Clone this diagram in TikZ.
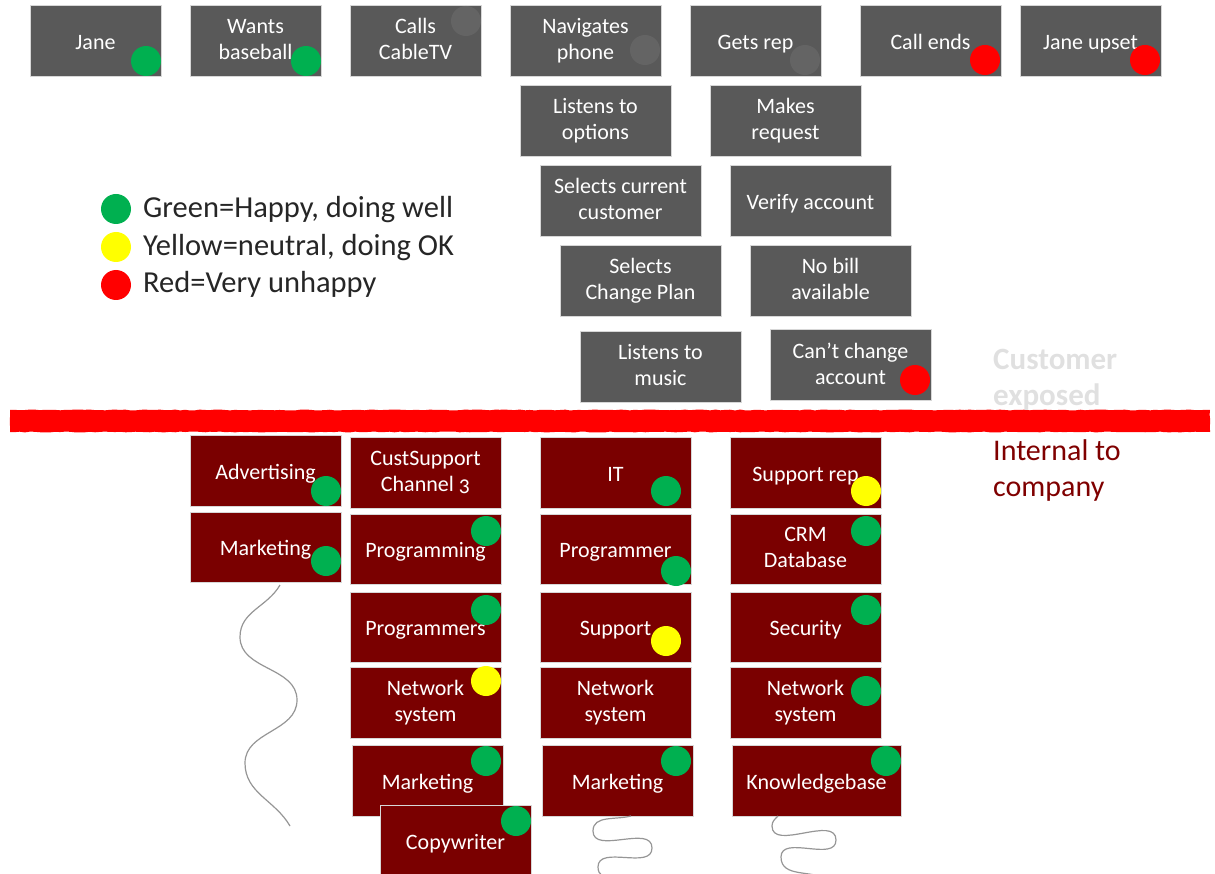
\documentclass[tikz,border=0pt]{standalone}
\usepackage{fontspec}
\setmainfont{Carlito}
\usetikzlibrary{decorations.pathmorphing}

\definecolor{boxgray}{RGB}{89,89,89}
\definecolor{boxred}{RGB}{122,0,0}
\definecolor{ghost}{RGB}{100,100,100}
\definecolor{okgreen}{RGB}{0,176,80}
\definecolor{okyellow}{RGB}{255,255,0}
\definecolor{badred}{RGB}{255,0,0}
\definecolor{edge}{RGB}{215,215,215}
\definecolor{inktext}{RGB}{38,38,38}
\definecolor{pale}{RGB}{224,224,224}
\definecolor{wine}{RGB}{127,0,0}
\definecolor{wave}{RGB}{150,150,150}

% invisible props giving every card line the same height and depth
\newcommand{\cardprop}{\rule[-2.5pt]{0pt}{23.5pt}}

\begin{document}
\begin{tikzpicture}[x=1pt,y=-1pt,
  card/.style={draw=edge, line width=0.7pt, text=white, align=center,
    inner sep=0pt, minimum height=71pt,
    font=\fontsize{22}{26}\selectfont,
    execute at begin node=\cardprop, execute at end node=\cardprop},
  stepcard/.style={card, fill=boxgray},
  deptcard/.style={card, fill=boxred},
  w/.style={minimum width=#1pt},
  ring/.style={circle, inner sep=0pt, minimum size=30pt, draw=none},
  happy/.style={ring, fill=okgreen},
  neutral/.style={ring, fill=okyellow},
  unhappy/.style={ring, fill=badred},
  faint/.style={ring, fill=ghost},
  legendtext/.style={anchor=base west, inner sep=0pt, text=inktext,
    font=\fontsize{30.5}{36}\selectfont},
  zonetext/.style={anchor=north west, inner sep=0pt, align=left},
  squiggle/.style={draw=wave, line width=1.2pt}]

\useasboundingbox (0,0) rectangle (1215,874);

% ---------- customer journey (top row) ----------
\node[stepcard, w=131] (jane)   at (95.5,40.5)  {Jane};
\node[stepcard, w=131] (wants)  at (255.5,40.5) {Wants\\baseball};
\node[stepcard, w=131] (calls)  at (415.5,40.5) {Calls\\CableTV};
\node[stepcard, w=151] (nav)    at (585.5,40.5) {Navigates\\phone};
\node[stepcard, w=131] (rep)    at (755.5,40.5) {Gets rep};
\node[stepcard, w=141] (ends)   at (930.5,40.5) {Call ends};
\node[stepcard, w=141] (upset)  at (1090.5,40.5) {Jane upset};

\node[happy]   (janeD)  at (146,61) {};
\node[happy]   (wantsD) at (306,61) {};
\node[faint]   (callsD) at (466,21) {};
\node[faint]   (navD)   at (645,50) {};
\node[faint]   (repD)   at (805,60) {};
\node[unhappy] (endsD)  at (985,60) {};
\node[unhappy] (upsetD) at (1145,60) {};

% ---------- phone menu / rep steps ----------
\node[stepcard, w=151] (options) at (595.5,120.5) {Listens to\\options};
\node[stepcard, w=151] (request) at (785.5,120.5) {Makes\\request};
\node[stepcard, w=161] (current) at (620.5,200.5) {Selects current\\customer};
\node[stepcard, w=161] (verify)  at (810.5,200.5) {Verify account};
\node[stepcard, w=161] (plan)    at (640.5,280.5) {Selects\\Change Plan};
\node[stepcard, w=161] (nobill)  at (830.5,280.5) {No bill\\available};
\node[stepcard, w=161] (music)   at (660.5,366.5) {Listens to\\music};
\node[stepcard, w=161] (cant)    at (850.5,364.5) {Can’t change\\account};
\node[unhappy] (cantD) at (915,380) {};

% ---------- legend ----------
\node[happy]   (lgG) at (116,209) {};
\node[neutral] (lgY) at (116,247) {};
\node[unhappy] (lgR) at (116,285) {};
\node[legendtext] (lgGt) at (143,218) {Green=Happy, doing well};
\node[legendtext] (lgYt) at (143,256) {Yellow=neutral, doing OK};
\node[legendtext] (lgRt) at (143,293) {Red=Very unhappy};

% ---------- boundary line ----------
\pgfmathsetseed{7}
\fill[badred, decorate,
  decoration={random steps, segment length=5pt, amplitude=0.45pt}]
  (10,410) -- (1210,410) -- (1210,432) -- (10,432) -- cycle;

\node[zonetext, text=pale, font=\bfseries\fontsize{31}{35.5}\selectfont]
  (exposed) at (993,349) {Customer\\exposed};
\node[zonetext, text=wine, font=\fontsize{30}{36}\selectfont]
  (internal) at (993,439) {Internal to\\company};

% ---------- internal departments ----------
% column 1
\node[deptcard, w=151] (adv)  at (265.5,470.5) {Advertising};
\node[deptcard, w=151, minimum height=70pt] (mkt1) at (265.5,547) {Marketing};
% column 2
\node[deptcard, w=151] (cust)   at (425.5,472.5) {CustSupport\\Channel {\addfontfeature{Numbers=OldStyle}3}};
\node[deptcard, w=151, minimum height=70pt] (prog)   at (425.5,549) {Programming};
\node[deptcard, w=151, minimum height=70pt] (progs)  at (425.5,627) {Programmers};
\node[deptcard, w=151] (net2)   at (425.5,702.5) {Network\\system};
\node[deptcard, w=151] (mkt2)   at (427.5,780.5) {Marketing};
\node[deptcard, w=151] (copy)   at (455.5,840.5) {Copywriter};
% column 3
\node[deptcard, w=151] (it)     at (615.5,472.5) {IT};
\node[deptcard, w=151, minimum height=70pt] (progr)  at (615.5,549) {Programmer};
\node[deptcard, w=151, minimum height=70pt] (supp)   at (615.5,627) {Support};
\node[deptcard, w=151] (net3)   at (615.5,702.5) {Network\\system};
\node[deptcard, w=151] (mkt3)   at (617.5,780.5) {Marketing};
% column 4
\node[deptcard, w=151] (srep)   at (805.5,472.5) {Support rep};
\node[deptcard, w=151, minimum height=70pt] (crm)    at (805.5,549) {CRM\\Database};
\node[deptcard, w=151, minimum height=70pt] (sec)    at (805.5,627) {Security};
\node[deptcard, w=151] (net4)   at (805.5,702.5) {Network\\system};
\node[deptcard, w=169] (kb)     at (816.5,780.5) {Knowledgebase};

% department mood markers
\node[happy]   (advD)   at (326,491) {};
\node[happy]   (mkt1D)  at (326,561) {};
\node[happy]   (progD)  at (486,531) {};
\node[happy]   (progsD) at (486,610) {};
\node[neutral] (net2D)  at (486,681) {};
\node[happy]   (mkt2D)  at (486,761) {};
\node[happy]   (copyD)  at (516,821) {};
\node[happy]   (itD)    at (666,491) {};
\node[happy]   (progrD) at (676,571) {};
\node[neutral] (suppD)  at (666,641) {};
\node[happy]   (mkt3D)  at (676,761) {};
\node[neutral] (srepD)  at (866,491) {};
\node[happy]   (crmD)   at (866,531) {};
\node[happy]   (secD)   at (866,610) {};
\node[happy]   (net4D)  at (866,691) {};
\node[happy]   (kbD)    at (886,761) {};

% ---------- wavy trailing lines ----------
\begin{scope}
\clip (0,0) rectangle (1215,874);
\draw[squiggle] (280,585) to[out=-120,in=90] (240,637)
  to[out=-90,in=90] (297,700) to[out=-90,in=90] (245,763)
  to[out=-90,in=120] (290,826);
\draw[squiggle] (631,816) to[out=-165,in=90] (593,831)
  to[out=-90,in=90] (652,848) to[out=-90,in=90] (598,867)
  to[out=-90,in=150] (640,884);
\draw[squiggle] (778,816) to[out=-135,in=90] (772,826)
  to[out=-90,in=90] (836,840) to[out=-90,in=90] (781,857)
  to[out=-90,in=150] (830,880);
\end{scope}
\end{tikzpicture}
\end{document}
